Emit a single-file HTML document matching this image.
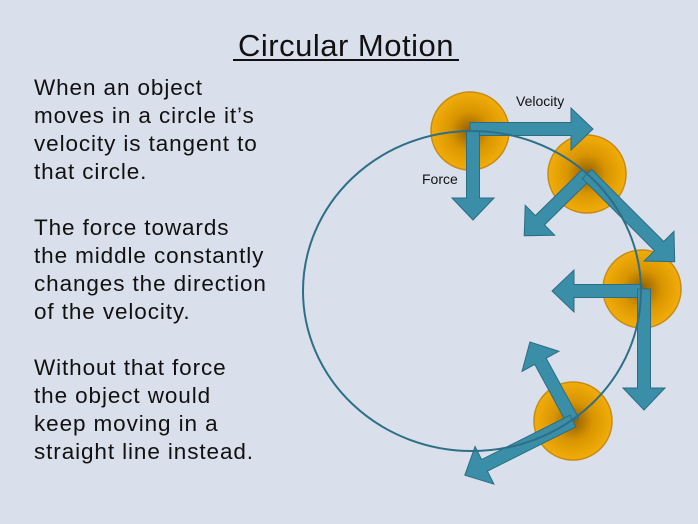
<!DOCTYPE html>
<html><head><style>
html,body{margin:0;padding:0;background:#d9dfeb;}
body{width:698px;height:524px;overflow:hidden;position:relative;font-family:"Liberation Sans",sans-serif;}
</style></head><body>
<svg width="698" height="524" xmlns="http://www.w3.org/2000/svg" style="position:absolute;left:0;top:0">
<defs>
<radialGradient id="b" cx="0.5" cy="0.5" r="0.5">
<stop offset="0" stop-color="#8f5e00"/><stop offset="0.5" stop-color="#d99500"/><stop offset="1" stop-color="#f2ad0a"/>
</radialGradient>
</defs>
<rect width="698" height="524" fill="#d9dfeb"/>
<text x="346" y="56" font-size="31" text-anchor="middle" fill="#111" letter-spacing="0.5">Circular Motion</text>
<rect x="233" y="59" width="226" height="2" fill="#111"/>
<g font-size="22.5" fill="#111" letter-spacing="0.9">
<text x="34" y="95">When an object</text>
<text x="34" y="123">moves in a circle it’s</text>
<text x="34" y="151">velocity is tangent to</text>
<text x="34" y="179">that circle.</text>
<text x="34" y="235">The force towards</text>
<text x="34" y="263">the middle constantly</text>
<text x="34" y="291">changes the direction</text>
<text x="34" y="319">of the velocity.</text>
<text x="34" y="375">Without that force</text>
<text x="34" y="403">the object would</text>
<text x="34" y="431">keep moving in a</text>
<text x="34" y="459">straight line instead.</text>
</g>
<g fill="url(#b)" stroke="#c48c12" stroke-width="1.5">
<circle cx="470" cy="131" r="39"/>
<circle cx="587" cy="174" r="39"/>
<circle cx="642" cy="289" r="39"/>
<circle cx="573" cy="421" r="39"/>
</g>
<g fill="#3b8ea8" stroke="#2b6d82" stroke-width="1">
<polygon transform="translate(470,129) rotate(0)" points="0,-6.5 101,-6.5 101,-21 123,0 101,21 101,6.5 0,6.5"/>
<polygon transform="translate(473,131) rotate(90)" points="0,-6.5 67,-6.5 67,-21 89,0 67,21 67,6.5 0,6.5"/>
<polygon transform="translate(587,174) rotate(135.5)" points="0,-6.5 66,-6.5 66,-21 88,0 66,21 66,6.5 0,6.5"/>
<polygon transform="translate(587,174) rotate(45)" points="0,-6.5 102,-6.5 102,-21 124,0 102,21 102,6.5 0,6.5"/>
<polygon transform="translate(642,291) rotate(180)" points="0,-6.5 68,-6.5 68,-21 90,0 68,21 68,6.5 0,6.5"/>
<polygon transform="translate(644,289) rotate(90)" points="0,-6.5 99,-6.5 99,-21 121,0 99,21 99,6.5 0,6.5"/>
<polygon transform="translate(573,421) rotate(-118.6)" points="0,-6.5 68,-6.5 68,-21 90,0 68,21 68,6.5 0,6.5"/>
<polygon transform="translate(573,421) rotate(153.4)" points="0,-6.5 99,-6.5 99,-21 121,0 99,21 99,6.5 0,6.5"/>
</g>
<ellipse cx="472" cy="291" rx="169" ry="160" fill="none" stroke="#2e6f86" stroke-width="2"/>
<text x="516" y="106" font-size="14" fill="#111">Velocity</text>
<text x="422" y="184" font-size="14" fill="#111">Force</text>
</svg>
</body></html>
